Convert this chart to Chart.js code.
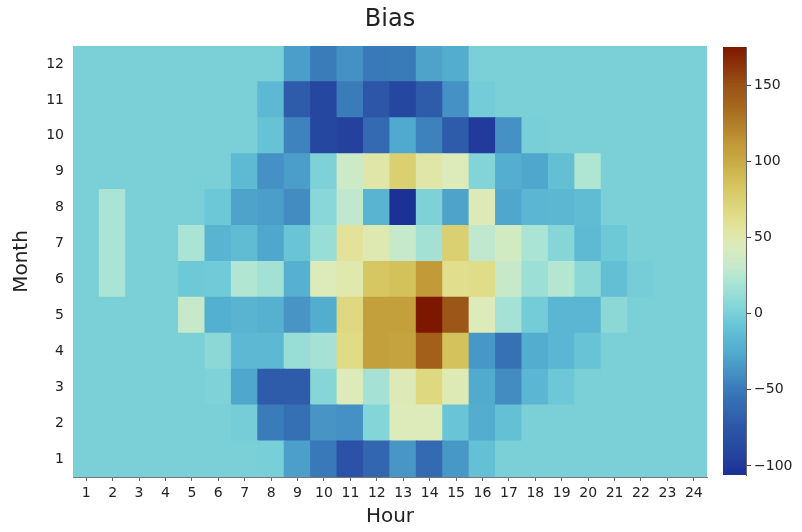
<!DOCTYPE html>
<html>
<head>
<meta charset="utf-8">
<title>Bias</title>
<script src="https://cdn.jsdelivr.net/npm/chart.js@4.4.1/dist/chart.umd.min.js"></script>
<style>
  html, body { margin: 0; padding: 0; background: #ffffff; }
  #wrap { position: relative; width: 802px; height: 532px; }
  #wrap canvas { position: absolute; left: 0; top: 0; }
  #cbar { pointer-events: none; }
</style>
</head>
<body>
<div id="wrap">
  <canvas id="heat" width="802" height="532"></canvas>
  <canvas id="cbar" width="802" height="532"></canvas>
</div>
<script>
// Hour of day (columns) and month (rows)
const hours = ['1','2','3','4','5','6','7','8','9','10','11','12','13','14','15','16','17','18','19','20','21','22','23','24'];
const months = [1,2,3,4,5,6,7,8,9,10,11,12];

// Bias by hour, one array per month
const biasM1  = [0,0,0,0,0,0,0,-1,-32,-52,-80,-65,-37,-62,-36,-11,0,0,0,0,0,0,0,0];
const biasM2  = [0,0,0,0,0,0,-2,-50,-58,-38,-40,4,45,45,-8,-25,-11,0,0,0,0,0,0,0];
const biasM3  = [0,0,0,0,0,2,-28,-72,-72,5,45,18,46,68,47,-26,-42,-18,-6,0,0,0,0,0];
const biasM4  = [0,0,0,0,0,7,-16,-16,12,18,65,107,105,140,85,-36,-57,-25,-18,-9,0,0,0,0];
const biasM5  = [0,0,0,0,32,-23,-20,-22,-38,-25,68,107,107,175,148,45,18,-3,-18,-18,7,0,0,0];
const biasM6  = [0,20,0,0,-5,-4,23,17,-22,45,50,82,86,110,62,64,32,14,24,7,-12,-2,0,0];
const biasM7  = [0,20,0,0,20,-20,-14,-28,-8,12,57,48,31,17,75,28,38,20,5,-15,-5,0,0,0];
const biasM8  = [0,20,0,0,0,-6,-30,-33,-42,6,28,-20,-106,1,-30,46,-28,-18,-17,-14,0,0,0,0];
const biasM9  = [0,0,0,0,0,0,-15,-40,-33,1,35,52,75,52,45,3,-24,-28,-12,22,0,0,0,0];
const biasM10 = [0,0,0,0,0,0,0,-10,-46,-92,-96,-62,-27,-47,-72,-100,-40,-1,0,0,0,0,0,0];
const biasM11 = [0,0,0,0,0,0,0,-16,-72,-92,-50,-76,-92,-72,-40,-3,0,0,0,0,0,0,0,0];
const biasM12 = [0,0,0,0,0,0,0,0,-33,-50,-40,-52,-51,-30,-25,0,0,0,0,0,0,0,0,0];

const rows = [biasM1, biasM2, biasM3, biasM4, biasM5, biasM6, biasM7, biasM8, biasM9, biasM10, biasM11, biasM12];

// Colour bar tick values
const cbTicks = [-100, -50, 0, 50, 100, 150];

// Diverging colour map (blue – cyan – cream – gold – brown), stops by value
const cmapStops = [
  [-106, '#1C3195'], [-100, '#213A9B'], [-92, '#2647A0'], [-75, '#2D57A8'],
  [-60, '#346DB3'], [-50, '#3A7BBA'], [-40, '#4590C4'], [-25, '#52ADCF'],
  [-15, '#5EBAD3'], [-5, '#6EC9D7'], [0, '#7BD0D7'], [5, '#86D6D8'],
  [12, '#98DDD6'], [20, '#A9E4D5'], [30, '#C4E9CD'], [45, '#DCEBB9'],
  [55, '#E2E4A0'], [65, '#E0DC86'], [75, '#DAD072'], [85, '#D4C35C'],
  [100, '#C8AA44'], [110, '#C29B38'], [125, '#B27D29'], [140, '#A2601A'],
  [150, '#9A5316'], [175, '#7E1700']
];

function hexToRgb(h) {
  const n = parseInt(h.slice(1), 16);
  return [(n >> 16) & 255, (n >> 8) & 255, n & 255];
}
const stopsRgb = cmapStops.map(([v, c]) => [v, hexToRgb(c)]);

function colorFor(v) {
  if (v <= stopsRgb[0][0]) return 'rgb(' + stopsRgb[0][1].join(',') + ')';
  for (let i = 1; i < stopsRgb.length; i++) {
    const [v1, c1] = stopsRgb[i];
    if (v <= v1) {
      const [v0, c0] = stopsRgb[i - 1];
      const t = (v - v0) / (v1 - v0);
      const c = c0.map((a, k) => Math.round(a + (c1[k] - a) * t));
      return 'rgb(' + c.join(',') + ')';
    }
  }
  return 'rgb(' + stopsRgb[stopsRgb.length - 1][1].join(',') + ')';
}

const allVals = rows.flat();
const vMin = Math.min(...allVals);
const vMax = Math.max(...allVals);

Chart.defaults.font.family = "'DejaVu Sans', sans-serif";
Chart.defaults.color = '#222';

// One floating-bar dataset per month: each bar spans month ± 0.5
const heatDatasets = rows.map((vals, mi) => ({
  label: String(months[mi]),
  data: vals.map(() => [months[mi] - 0.5, months[mi] + 0.5]),
  backgroundColor: vals.map(colorFor),
  borderWidth: 0,
  barPercentage: 1,
  categoryPercentage: 1,
  inflateAmount: 0.6,
  grouped: false
}));

new Chart(document.getElementById('heat'), {
  type: 'bar',
  data: { labels: hours, datasets: heatDatasets },
  options: {
    responsive: false,
    animation: false,
    devicePixelRatio: 1,
    layout: { padding: { left: 0, right: 95, top: 0, bottom: 0 } },
    plugins: {
      legend: { display: false },
      tooltip: { enabled: false },
      title: {
        display: true,
        text: 'Bias',
        fullSize: false,
        font: { size: 24, weight: 'normal' },
        color: '#222',
        padding: { top: 5, bottom: 12.2 }
      }
    },
    scales: {
      x: {
        type: 'category',
        offset: true,
        grid: { display: true, drawOnChartArea: false, drawTicks: true, tickLength: 4, offset: false, color: '#666' },
        border: { display: true, color: '#777', width: 1 },
        ticks: { font: { size: 14 }, color: '#222', padding: 4, maxRotation: 0, autoSkip: false },
        title: { display: true, text: 'Hour', font: { size: 20 }, color: '#222', padding: { top: 0, bottom: 3 } },
        afterFit: s => { s.height = 55; }
      },
      y: {
        type: 'linear',
        min: 0.5,
        max: 12.5,
        grid: { display: false, drawTicks: false },
        border: { display: true, color: '#777', width: 1 },
        ticks: { font: { size: 14 }, color: '#222', padding: 9 },
        afterBuildTicks: s => { s.ticks = months.map(m => ({ value: m })); },
        title: { display: true, text: 'Month', font: { size: 20 }, color: '#222', padding: { top: 10, bottom: 0 } },
        afterFit: s => { s.width = 73; }
      }
    }
  }
});

// Colour bar: one horizontal stripe per unit step from max down to min
const cbLevels = [];
for (let v = vMax; v >= vMin; v -= 1) cbLevels.push(v);

new Chart(document.getElementById('cbar'), {
  type: 'bar',
  data: {
    labels: cbLevels.map(String),
    datasets: [{
      data: cbLevels.map(() => [0, 1]),
      backgroundColor: cbLevels.map(colorFor),
      borderWidth: 0,
      barPercentage: 1,
      categoryPercentage: 1,
      inflateAmount: 0.6
    }]
  },
  options: {
    indexAxis: 'y',
    responsive: false,
    animation: false,
    devicePixelRatio: 1,
    layout: { padding: { left: 723, right: 0, top: 47, bottom: 57 } },
    plugins: { legend: { display: false }, tooltip: { enabled: false }, title: { display: false } },
    scales: {
      y: { type: 'category', display: false, offset: true },
      x: { type: 'linear', display: false, min: 0, max: 1 },
      v: {
        axis: 'y',
        type: 'linear',
        position: 'right',
        offset: false,
        min: vMin,
        max: vMax,
        grid: { display: true, offset: false, drawOnChartArea: false, drawTicks: true, tickLength: 5, color: '#444' },
        border: { display: true, color: '#666', width: 1 },
        ticks: {
          font: { size: 14 },
          color: '#222',
          padding: 3,
          callback: v => (v < 0 ? '\u2212' + Math.abs(v) : String(v))
        },
        afterBuildTicks: s => { s.ticks = cbTicks.map(v => ({ value: v })); },
        afterFit: s => { s.width = 56; }
      }
    }
  }
});
</script>
</body>
</html>
